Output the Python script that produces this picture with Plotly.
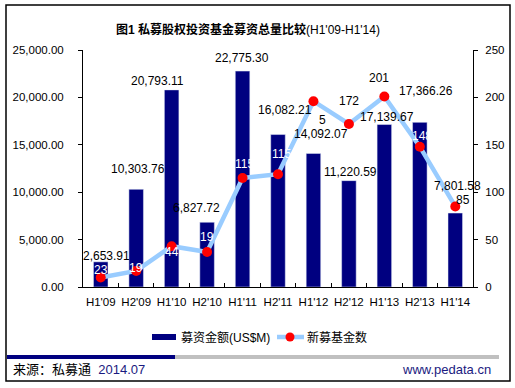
import plotly.graph_objects as go

categories = ["H1'09", "H2'09", "H1'10", "H2'10", "H1'11", "H2'11",
              "H1'12", "H2'12", "H1'13", "H2'13", "H1'14"]
amount_usdm = [2653.91, 10303.76, 20793.11, 6827.72, 22775.30, 16082.21,
               14092.07, 11220.59, 17139.67, 17366.26, 7801.58]
new_funds = [10, 17, 43, 37, 115, 119, 196, 172, 201, 148, 85]
new_funds_labels = ["23", "19", "44", "19", "115", "115", "5", "172", "201", "148", "85"]
left_ticks = [0, 5000, 10000, 15000, 20000, 25000]
right_ticks = [0, 50, 100, 150, 200, 250]

# label style/offset tables (pixels)
bar_lbl_shift = [(6, 6), (2, 20), (-14, 9), (-11, 14), (-1, 13), (7, 25),
                 (8, 19), (2, 9), (3, 8), (6, 31), (2, 27)]
pt_lbl_shift = [(0, 8), (0, 3), (0, -6), (0, 15), (2, 14), (3, 20),
                (9, -19), (0, 23), (-5, 18), (2, 11), (8, 6)]
pt_lbl_color = ["white"] * 6 + ["black", "black", "black", "white", "black"]

FONT = "Liberation Sans, Arial, Noto Sans CJK SC, sans-serif"
NAVY = "#000080"
LBLUE = "#99CCFF"

W, H = 515, 388
L, R, T, B = 83, 42, 50, 101
PW, PH = W - L - R, H - T - B


def px(x):
    return (x - L) / PW


def py(y):
    return (H - B - y) / PH


fig = go.Figure()
fig.add_trace(go.Bar(x=categories, y=amount_usdm, marker_color=NAVY,
                     width=0.41, name="募资金额(US$M)", yaxis="y"))
fig.add_trace(go.Scatter(x=categories, y=new_funds, mode="lines+markers",
                         line=dict(color=LBLUE, width=4.5),
                         marker=dict(color="#FF0000", size=10),
                         name="新募基金数", yaxis="y2"))

ann = []
for c, v, (dx, dy) in zip(categories, amount_usdm, bar_lbl_shift):
    ann.append(dict(x=c, y=v, xref="x", yref="y", text=f"{v:,.2f}",
                    showarrow=False, xshift=dx, yshift=dy,
                    font=dict(family=FONT, size=12, color="black")))
for c, v, t, (dx, dy), col in zip(categories, new_funds, new_funds_labels,
                                  pt_lbl_shift, pt_lbl_color):
    ann.append(dict(x=c, y=v, xref="x", yref="y2", text=t,
                    showarrow=False, xshift=dx, yshift=dy,
                    font=dict(family=FONT, size=12, color=col)))

# title
ann.append(dict(x=px(247.5), y=py(30), xref="paper", yref="paper",
                text="<b>图1 私募股权投资基金募资总量比较</b>(H1'09-H1'14)",
                showarrow=False, xanchor="center", yanchor="middle",
                font=dict(family=FONT, size=12, color="black")))
# legend texts
ann.append(dict(x=px(179), y=py(337), xref="paper", yref="paper",
                text="募资金额(US$M)", showarrow=False, xanchor="left",
                yanchor="middle", font=dict(family=FONT, size=12, color="black")))
ann.append(dict(x=px(305), y=py(337), xref="paper", yref="paper",
                text="新募基金数", showarrow=False, xanchor="left",
                yanchor="middle", font=dict(family=FONT, size=12, color="black")))
# footer
ann.append(dict(x=px(11), y=py(369), xref="paper", yref="paper",
                text="来源：私募通  <span style='color:#1a1a80'>2014.07</span>",
                showarrow=False, xanchor="left", yanchor="middle",
                font=dict(family=FONT, size=13, color="black")))
ann.append(dict(x=px(493), y=py(369), xref="paper", yref="paper",
                text="www.pedata.cn", showarrow=False, xanchor="right",
                yanchor="middle", font=dict(family=FONT, size=13, color="#1a1a80")))

shapes = [
    # outer border
    dict(type="rect", xref="paper", yref="paper", x0=px(6), x1=px(510),
         y0=py(381), y1=py(5), line=dict(color="black", width=1.5)),
    # separator bars
    dict(type="rect", xref="paper", yref="paper", x0=px(7), x1=px(175),
         y0=py(359), y1=py(355), line=dict(width=0), fillcolor=NAVY),
    dict(type="rect", xref="paper", yref="paper", x0=px(175), x1=px(499),
         y0=py(359), y1=py(355), line=dict(width=0), fillcolor="#C0C0C0"),
    # legend swatches
    dict(type="rect", xref="paper", yref="paper", x0=px(152), x1=px(176),
         y0=py(340), y1=py(334), line=dict(width=0), fillcolor=NAVY),
    dict(type="line", xref="paper", yref="paper", x0=px(277), x1=px(304),
         y0=py(337), y1=py(337), line=dict(color=LBLUE, width=4.5)),
    dict(type="circle", xref="paper", yref="paper", x0=px(285.5), x1=px(294.5),
         y0=py(341.5), y1=py(332.5), line=dict(width=0), fillcolor="#FF0000"),
]

fig.update_layout(
    width=W, height=H,
    margin=dict(l=L, r=R, t=T, b=B, pad=0, autoexpand=False),
    paper_bgcolor="white", plot_bgcolor="white",
    showlegend=False,
    font=dict(family=FONT, size=12, color="black"),
    annotations=ann, shapes=shapes,
    bargap=0.59,
    xaxis=dict(type="category", showline=True, linecolor="black", linewidth=1,
               ticks="inside", ticklen=4, tickcolor="black", tickson="boundaries",
               showgrid=False, tickfont=dict(family=FONT, size=11.5), tickangle=0,
               ticklabelstandoff=4, range=[-0.5, 10.5], automargin=False),
    yaxis=dict(range=[0, 25000], tickvals=left_ticks, tickformat=",.2f",
               showline=True, linecolor="black", linewidth=1, ticks="outside",
               ticklen=4, tickcolor="black", showgrid=False, zeroline=False,
               tickfont=dict(family=FONT, size=11.5), ticklabelstandoff=12,
               automargin=False),
    yaxis2=dict(range=[0, 250], tickvals=right_ticks, overlaying="y", side="right",
                showline=True, linecolor="black", linewidth=1, ticks="outside",
                ticklen=4, tickcolor="black", showgrid=False, zeroline=False,
                tickfont=dict(family=FONT, size=11.5), ticklabelstandoff=5,
                automargin=False),
)

fig.write_html("out.html", config={"displayModeBar": False},
               post_script="document.body.style.margin='0';document.body.style.padding='0';")
